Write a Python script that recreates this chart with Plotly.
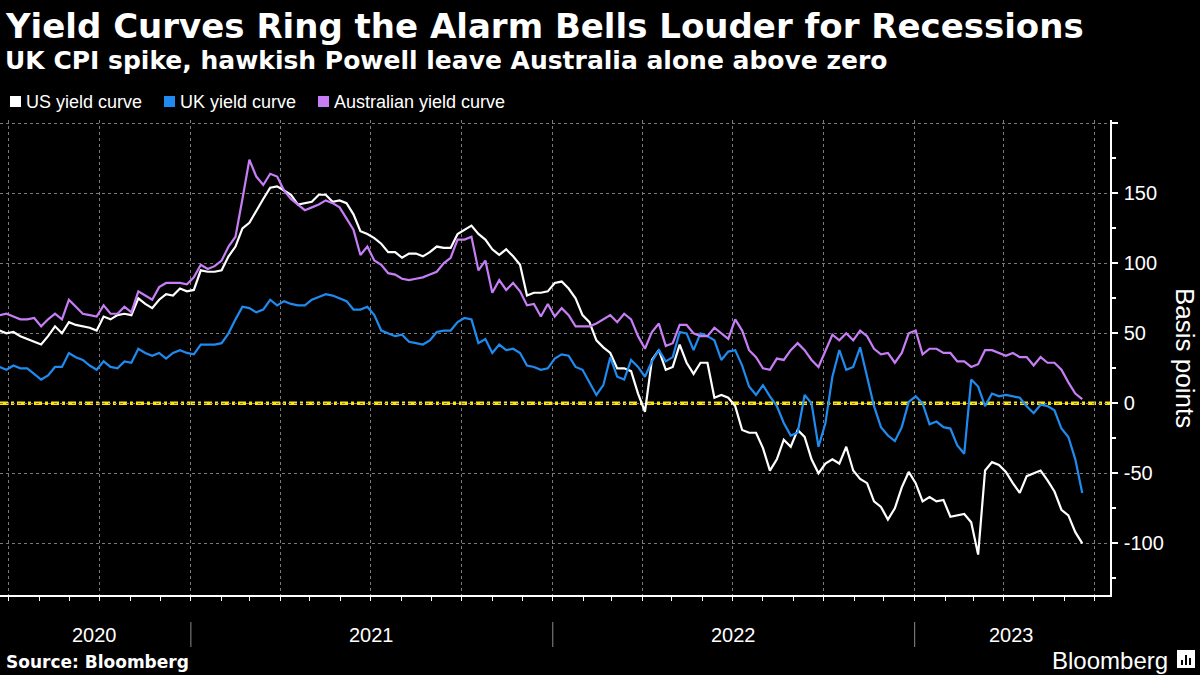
import pandas as pd
import plotly.graph_objects as go

# ---------------- data (weekly readings, basis points) ----------------
start_date = "2020-06-22"
us_curve = [52,50,51,48,46,44,42,48,55,50,58,56,55,54,52,62,60,63,64,63,75,71,68,74,78,77,82,80,81,95,94,94,
            95,105,112,125,129,138,146,154,155,152,149,142,143,144,149,149,144,145,143,135,123,121,118,114,108,108,104,107,107,105,108,112,111,
            111,121,124,127,121,117,110,106,110,105,99,77,79,79,80,86,87,82,75,63,58,45,40,36,25,25,23,7,-6,31,38,24,
            26,42,29,21,29,29,4,6,4,-2,-19,-21,-21,-32,-48,-40,-26,-31,-19,-24,-40,-50,-43,-40,-43,-31,-48,-54,-57,-70,-74,
            -83,-75,-60,-49,-57,-70,-67,-70,-69,-81,-80,-79,-85,-108,-48,-42,-44,-49,-57,-64,-52,-50,-48,-55,-63,-76,-80,-92,-100]
uk_curve = [26,24,27,25,25,21,17,20,26,26,36,33,31,27,24,30,26,25,30,29,39,36,34,36,32,36,38,36,35,42,42,42,
            43,50,60,69,68,65,67,74,70,73,71,70,70,74,76,78,77,75,73,67,67,69,63,52,50,48,49,44,43,42,45,51,52,
            52,58,61,60,43,46,36,42,38,39,36,27,26,24,25,32,35,34,26,24,15,6,13,33,19,17,31,26,19,30,38,30,
            33,51,50,38,50,48,45,31,37,38,27,12,6,13,5,-2,-14,-23,-21,6,0,-31,-14,19,38,24,26,40,19,-2,-17,
            -23,-27,-17,1,5,0,-15,-13,-17,-18,-30,-36,17,12,-2,7,5,6,5,4,-2,-7,-1,-2,-5,-18,-24,-40,-64]
au_curve = [63,64,62,60,60,61,55,60,64,60,74,69,64,63,62,70,64,64,69,65,80,77,74,83,86,86,86,85,90,99,96,98,
            102,112,119,146,174,162,156,164,162,152,146,142,138,140,142,145,143,140,132,124,106,112,102,99,93,92,89,88,89,90,92,94,100,
            104,117,117,119,95,102,79,88,81,86,80,70,71,62,71,62,68,63,55,55,55,57,60,63,58,64,60,48,39,51,57,41,
            43,56,56,50,48,48,54,50,46,60,52,38,33,25,24,32,31,38,43,38,31,26,38,49,45,50,45,52,48,39,35,
            36,29,36,50,52,35,39,39,36,36,30,30,26,28,38,38,36,34,36,33,33,27,33,29,29,24,15,7,3]
dates = pd.date_range(start_date, periods=len(us_curve), freq="7D")

series_names = ["US yield curve", "UK yield curve", "Australian yield curve"]
series_colors = ["#FFFFFF", "#1F8BF0", "#C67DF5"]
year_labels = ["2020", "2021", "2022", "2023"]
year_centers = ["2020-09-26", "2021-07-02", "2022-07-02", "2023-04-09"]
year_breaks = ["2021-01-01", "2022-01-01", "2023-01-01"]
y_ticks = [-100, -50, 0, 50, 100, 150, 200]
y_ticktext = ["-100", "-50", "0", "50", "100", "150", ""]

# ---------------- geometry helpers ----------------
W, H = 1200, 675
ML, MR, MT, MB = 0, 90, 120, 80
PW, PH = W - ML - MR, H - MT - MB
def px(x):  # pixel x -> paper
    return (x - ML) / PW
def py(y):  # pixel y -> paper
    return (H - MB - y) / PH

FONT = "Liberation Sans"
BOLD = "DejaVu Sans"

fig = go.Figure()
for name, vals, col in zip(series_names, [us_curve, uk_curve, au_curve], series_colors):
    fig.add_trace(go.Scatter(x=dates, y=vals, mode="lines", name=name,
                             line=dict(color=col, width=2.2), showlegend=False))

shapes = []
# zero line
shapes.append(dict(type="line", xref="paper", yref="y", x0=0, x1=1, y0=0, y1=0,
                   line=dict(color="#FFE600", width=3.5, dash="8px,3px,3px,3px"), layer="between"))
# year separators
for d in year_breaks:
    shapes.append(dict(type="line", xref="x", yref="paper", x0=d, x1=d, y0=py(622), y1=py(647),
                       line=dict(color="#8a8a8a", width=1)))
# legend squares
for x0, col in zip([10, 164, 318], series_colors):
    shapes.append(dict(type="rect", xref="paper", yref="paper", x0=px(x0), x1=px(x0 + 11),
                       y0=py(107), y1=py(96), fillcolor=col, line=dict(width=0)))
# Bloomberg icon
shapes.append(dict(type="rect", xref="paper", yref="paper", x0=px(1177), x1=px(1195), y0=py(668), y1=py(650),
                   fillcolor="white", line=dict(width=0)))
for bx, top in [(1181, 660), (1185, 655), (1189, 658)]:
    shapes.append(dict(type="rect", xref="paper", yref="paper", x0=px(bx), x1=px(bx + 2), y0=py(665), y1=py(top),
                       fillcolor="black", line=dict(width=0)))

ann = []
ann.append(dict(text="<b>Yield Curves Ring the Alarm Bells Louder for Recessions</b>", x=px(3), y=py(26),
                xanchor="left", yanchor="middle", font=dict(family=BOLD, size=34, color="white")))
ann.append(dict(text="<b>UK CPI spike, hawkish Powell leave Australia alone above zero</b>", x=px(3), y=py(60),
                xanchor="left", yanchor="middle", font=dict(family=BOLD, size=25, color="white")))
for x0, name in zip([24, 178, 332], series_names):
    ann.append(dict(text=name, x=px(x0), y=py(102), xanchor="left", yanchor="middle",
                    font=dict(family=FONT, size=18, color="white")))
for lab, c in zip(year_labels, year_centers):
    ann.append(dict(text=lab, x=c, xref="x", y=py(635), xanchor="center", yanchor="middle",
                    font=dict(family=FONT, size=20, color="white")))
ann.append(dict(text="<b>Source: Bloomberg</b>", x=px(4), y=py(662), xanchor="left", yanchor="middle",
                font=dict(family=BOLD, size=17, color="white")))
ann.append(dict(text="Bloomberg", x=px(1170), y=py(660), xanchor="right", yanchor="middle",
                font=dict(family=FONT, size=24, color="white")))
ann.append(dict(text="Basis points", x=px(1185), y=py(358), xanchor="center", yanchor="middle", textangle=90,
                font=dict(family=FONT, size=26, color="white")))
for a in ann:
    a.setdefault("xref", "paper")
    a.setdefault("yref", "paper")
    a["showarrow"] = False

fig.update_layout(
    width=W, height=H, autosize=False,
    margin=dict(l=ML, r=MR, t=MT, b=MB, pad=0),
    paper_bgcolor="black", plot_bgcolor="black",
    font=dict(family=FONT, color="white"),
    showlegend=False,
    shapes=shapes, annotations=ann,
    xaxis=dict(type="date", range=["2020-06-22 12:00", "2023-07-17"],
               showgrid=True, gridcolor="#7a7a7a", griddash="3px,3px", gridwidth=1,
               dtick="M3", tick0="2020-07-01", ticks="outside", ticklen=4, tickcolor="white", tickwidth=1,
               showticklabels=False, showline=True, linecolor="white", linewidth=1.5, zeroline=False,
               minor=dict(dtick="M1", tick0="2020-07-01", ticks="outside", ticklen=4, tickcolor="white",
                          showgrid=False)),
    yaxis=dict(side="right", range=[-136.9, 202.4], tickmode="array", tickvals=y_ticks, ticktext=y_ticktext,
               showgrid=True, gridcolor="#7a7a7a", griddash="3px,3px", gridwidth=1,
               ticks="outside", ticklen=6, tickwidth=1.5, tickcolor="white",
               showline=True, linecolor="white", linewidth=1.5, zeroline=False,
               tickfont=dict(family=FONT, size=20, color="white"), ticklabelstandoff=2,
               minor=dict(dtick=25, tick0=0, ticks="outside", ticklen=4, tickcolor="white", showgrid=False)),
)

fig.write_html("out.html", config={"displayModeBar": False},
               post_script="document.body.style.margin='0';document.body.style.overflow='hidden';")
